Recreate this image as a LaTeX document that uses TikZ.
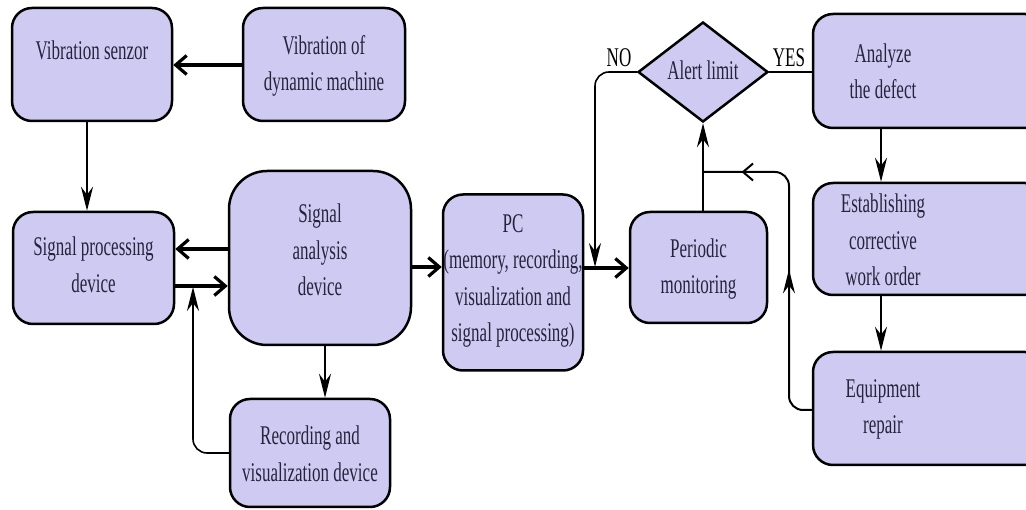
\documentclass[tikz,border=0pt]{standalone}
\usepackage{fontspec}
\setmainfont{Liberation Serif}
\usetikzlibrary{arrows.meta,shapes.geometric,decorations.markings}
\definecolor{boxfill}{RGB}{206,202,242}
\definecolor{txtcol}{RGB}{38,36,60}
\newcommand\tx[2][-6.75pt]{\raisebox{#1}[0pt][0pt]{\scalebox{0.63}[1]{\begin{tabular}{@{}c@{}}#2\end{tabular}}}}
\begin{document}
\begin{tikzpicture}[x=1pt,y=-1pt,
 box/.style={draw=black, line width=2.5pt, fill=boxfill, rounded corners=20pt, inner sep=0pt, text=txtcol, font=\fontsize{27}{36.5}\selectfont},
 thickarrow/.style={line width=3.2pt, -{Straight Barb[length=11pt,width=19pt]}},
 thinarrow/.style={line width=1.6pt, -{Stealth[length=24pt,width=12pt,inset=8pt]}},
 lbl/.style={font=\fontsize{27}{36.5}\selectfont, text=black, inner sep=0pt}]
\useasboundingbox (0,0) rectangle (1026,510);
\fill[white] (0,0) rectangle (1026,510);
\clip (0,0) rectangle (1026,510);

% boxes
\node[box, minimum width=160pt, minimum height=113pt] (vs) at (92,64.5) {\tx[5.75pt]{Vibration senzor}};
\node[box, minimum width=162pt, minimum height=113pt] (vodm) at (324,64.5) {\tx{Vibration of\\dynamic machine}};
\node[box, minimum width=161pt, minimum height=112pt] (spd) at (93.5,268) {\tx[-5pt]{Signal processing\\device}};
\node[box, rounded corners=38pt, minimum width=182pt, minimum height=174pt] (sad) at (320,258) {\tx[-0.25pt]{Signal\\analysis\\device}};
\node[box, minimum width=160pt, minimum height=108pt] (rvd) at (310,453) {\tx[-8.75pt]{Recording and\\visualization device}};
\node[box, minimum width=140pt, minimum height=176pt] (pc) at (513,282.5) {\tx[-3.25pt]{PC\\(memory, recording,\\visualization and\\signal processing)}};
\node[box, minimum width=137pt, minimum height=111pt] (pm) at (698.5,267.5) {\tx{Periodic\\monitoring}};
\node[diamond, draw=black, line width=2.5pt, fill=boxfill, aspect=1.3, minimum width=130pt, minimum height=100pt, inner sep=0pt, text=txtcol, font=\fontsize{27}{36.5}\selectfont] (al) at (703,72) {\tx{Alert limit}};
\node[box, minimum width=232pt, minimum height=114pt] (ad) at (929,71) {\tx[-8.25pt]{Analyze\\the defect}\kern92pt};
\node[box, minimum width=232pt, minimum height=112pt] (ecwo) at (929,239) {\tx[-9.25pt]{Establishing\\corrective\\work order}\kern92pt};
\node[box, minimum width=232pt, minimum height=113pt] (er) at (929,408.5) {\tx[-5.75pt]{Equipment\\repair}\kern92pt};

% labels
\node[lbl] (no) at (619,58) {\scalebox{0.63}[1]{NO}};
\node[lbl] (yes) at (789,58) {\scalebox{0.63}[1]{YES}};

% connectors
\draw[thickarrow] (vodm.west |- 0,65) -- (vs.east |- 0,65);
\draw[thinarrow] (vs.south -| 87,0) -- (spd.north -| 87,0);
\draw[thickarrow] (sad.west |- 0,249) -- (spd.east |- 0,249);
\draw[thickarrow] (spd.east |- 0,286) -- (sad.west |- 0,286);
\coordinate (j1) at (193,287);
\draw[thinarrow, rounded corners=14pt] (rvd.west |- 0,453) -- (193,453) -- (j1);
\draw[thinarrow] (sad.south -| 325,0) -- (rvd.north -| 325,0);
\draw[thickarrow] (sad.east |- 0,267) -- (pc.west |- 0,267);
\draw[thickarrow] (pc.east |- 0,268) -- (pm.west |- 0,268);
\coordinate (j2) at (595,267);
\draw[thinarrow, rounded corners=14pt] (al.west) -- (595,72) -- (j2);
\draw[line width=2.2pt] (al.east) -- (ad.west |- al.east);
\draw[thinarrow] (pm.north -| al.south) -- (al.south);
\draw[thinarrow] (ad.south -| 881,0) -- (ecwo.north -| 881,0);
\draw[thinarrow] (ecwo.south -| 881,0) -- (er.north -| 881,0);
\coordinate (j3) at (703,172);
\draw[line width=2pt, rounded corners=14pt, postaction=decorate,
  decoration={markings,
    mark=at position 0.47 with {\arrow{Stealth[length=24pt,width=12pt,inset=8pt]}},
    mark=at position 0.885 with {\arrow{Straight Barb[length=10pt,width=17pt]}}}]
  (er.west |- 0,410) -- (789,410) -- (789,172) -- (j3);
\end{tikzpicture}
\end{document}
